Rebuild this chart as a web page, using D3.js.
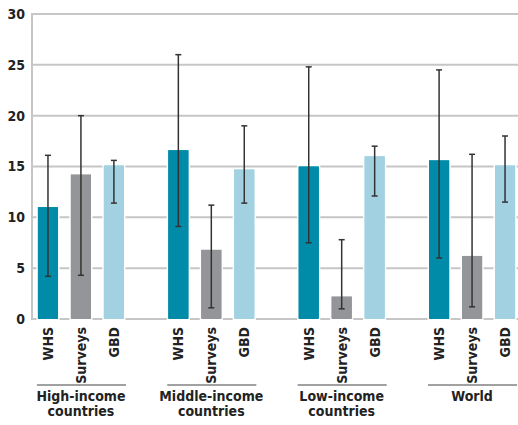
<!DOCTYPE html>
<html><head><meta charset="utf-8">
<script src="https://cdn.jsdelivr.net/npm/d3@7"></script>
<style>
body{margin:0;background:#fff;}
text{font-family:"Liberation Sans Narrow","DejaVu Sans Condensed","Roboto Condensed",sans-serif;font-stretch:condensed;}
</style></head>
<body><svg id="chart" width="518" height="425"></svg>
<script>
const groups = ["High-income countries","Middle-income countries","Low-income countries","World"];
const groupLines = [["High-income","countries"],["Middle-income","countries"],["Low-income","countries"],["World"]];
const series = ["WHS","Surveys","GBD"];
const whsValues = [11.0, 16.6, 15.0, 15.6];
const whsLow = [4.2, 9.1, 7.5, 6.0];
const whsHigh = [16.1, 26.0, 24.8, 24.5];
const surveyValues = [14.2, 6.8, 2.2, 6.2];
const surveyLow = [4.3, 1.1, 1.0, 1.2];
const surveyHigh = [20.0, 11.2, 7.8, 16.2];
const gbdValues = [15.1, 14.7, 16.0, 15.1];
const gbdLow = [11.4, 11.4, 12.1, 11.5];
const gbdHigh = [15.6, 19.0, 17.0, 18.0];
const yTicks = [0,5,10,15,20,25,30];
const colors = ["#008ca8","#939598","#a2d2e1"];

const values = [whsValues, surveyValues, gbdValues];
const lows = [whsLow, surveyLow, gbdLow];
const highs = [whsHigh, surveyHigh, gbdHigh];
const data = [];
groups.forEach((g,gi)=>series.forEach((s,si)=>data.push({g,s,si,v:values[si][gi],lo:lows[si][gi],hi:highs[si][gi]})));

const svg = d3.select("#chart");
const y = d3.scaleLinear().domain([0,30]).range([319,14]);
const x0 = d3.scaleBand().domain(groups).range([34,519]).paddingInner(0.34).paddingOuter(0.03);
const x1 = d3.scaleBand().domain(series).range([0,x0.bandwidth()]).paddingInner(0.39).paddingOuter(0);

// gridlines
svg.append("g").selectAll("line").data(yTicks).join("line")
  .attr("x1",32).attr("x2",518).attr("y1",d=>y(d)).attr("y2",d=>y(d))
  .attr("stroke","#c6c6c6").attr("stroke-width",2);
// left axis line
svg.append("line").attr("x1",32).attr("x2",32).attr("y1",y(30)-1).attr("y2",y(0)+1)
  .attr("stroke","#c6c6c6").attr("stroke-width",2);

// y tick labels
svg.append("g").selectAll("text").data(yTicks).join("text")
  .attr("x",25).attr("y",d=>y(d)).attr("dy","0.35em").attr("text-anchor","end")
  .attr("font-size",14).attr("font-weight","bold").attr("fill","#222").text(d=>d);

// bars (white halo hides gridlines around bars)
svg.append("g").selectAll("rect").data(data).join("rect")
  .attr("x",d=>x0(d.g)+x1(d.s)).attr("width",x1.bandwidth())
  .attr("y",d=>y(d.v)).attr("height",d=>y(0)-y(d.v))
  .attr("fill",d=>colors[d.si]).attr("stroke","#fff").attr("stroke-width",3).attr("paint-order","stroke");
svg.append("g").selectAll("rect").data(data).join("rect")
  .attr("x",d=>x0(d.g)+x1(d.s)).attr("width",x1.bandwidth())
  .attr("y",d=>y(d.v)).attr("height",d=>y(0)-y(d.v)-1)
  .attr("fill",d=>colors[d.si]);

// error bars
const eb = svg.append("g").attr("stroke","#333").attr("stroke-width",1.5);
data.forEach(d=>{
  const cx = x0(d.g)+x1(d.s)+x1.bandwidth()/2;
  eb.append("line").attr("x1",cx).attr("x2",cx).attr("y1",y(d.hi)).attr("y2",y(d.lo));
  eb.append("line").attr("x1",cx-3).attr("x2",cx+3).attr("y1",y(d.hi)).attr("y2",y(d.hi));
  eb.append("line").attr("x1",cx-3).attr("x2",cx+3).attr("y1",y(d.lo)).attr("y2",y(d.lo));
});

// series labels rotated
svg.append("g").selectAll("text").data(data).join("text")
  .attr("transform",d=>`translate(${x0(d.g)+x1(d.s)+x1.bandwidth()/2},327) rotate(-90)`)
  .attr("text-anchor","end").attr("dy","0.35em").attr("font-size",14).attr("font-weight","bold")
  .attr("fill","#222").text(d=>d.s);

// group underline and labels
const gg = svg.append("g").selectAll("g").data(groups).join("g")
  .attr("transform",d=>`translate(${x0(d)},0)`);
gg.append("line").attr("x1",-1).attr("x2",x0.bandwidth()+2).attr("y1",385).attr("y2",385)
  .attr("stroke","#444").attr("stroke-width",1.2);
gg.each(function(d,i){
  const t = d3.select(this).append("text").attr("x",x0.bandwidth()/2).attr("y",401)
    .attr("text-anchor","middle").attr("font-size",14).attr("font-weight","bold").attr("fill","#222");
  groupLines[i].forEach((ln,li)=>t.append("tspan").attr("x",x0.bandwidth()/2).attr("dy",li?15:0).text(ln));
});
</script></body></html>
